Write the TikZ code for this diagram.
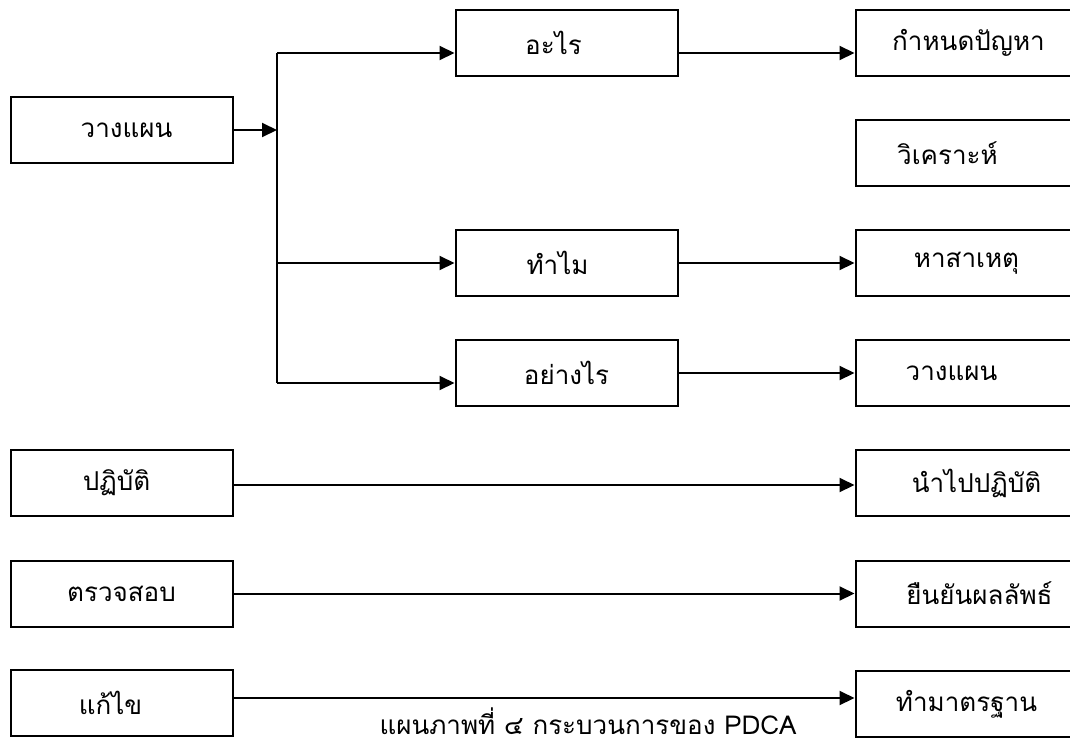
\documentclass[tikz,border=0pt]{standalone}
\usepackage{fontspec}
\newfontfamily\thaifont[Script=Thai]{Loma}
\usetikzlibrary{arrows.meta}
\newcommand\shiftx[2]{\hspace*{#1}#2\hspace*{-#1}}
\begin{document}
\begin{tikzpicture}[x=1pt,y=-1pt,
  box/.style={draw, line width=2pt, minimum width=222pt, minimum height=66pt, inner sep=0pt,
    font=\thaifont\fontsize{26}{30}\selectfont},
  conn/.style={line width=2pt},
  arr/.style={conn, -{Triangle[length=15pt,width=14pt]}}]
\useasboundingbox (0,0) rectangle (1070,747);
\clip (0,0) rectangle (1070,747);
% left column
\node[box] (L1) at (121.5,130) {\shiftx{5pt}{วางแผน}};
\node[box] (L2) at (121.5,483) {\shiftx{-5pt}{ปฏิบัติ}};
\node[box] (L3) at (121.5,593.5) {ตรวจสอบ};
\node[box] (L4) at (121.5,703) {\shiftx{-11pt}{แก้ไข}};
% middle column
\node[box] (M1) at (566.5,43) {\shiftx{-13pt}{อะไร}};
\node[box] (M2) at (566.5,263) {\shiftx{-9pt}{ทำไม}};
\node[box] (M3) at (566.5,373) {อย่างไร};
% right column
\node[box] (R1) at (966.5,43) {\shiftx{2pt}{กำหนดปัญหา}};
\node[box] (R2) at (966.5,153) {\shiftx{-19pt}{วิเคราะห์}};
\node[box] (R3) at (966.5,263) {หาสาเหตุ};
\node[box] (R4) at (966.5,373) {\shiftx{-15pt}{วางแผน}};
\node[box] (R5) at (966.5,483) {\shiftx{10pt}{นำไปปฏิบัติ}};
\node[box] (R6) at (966.5,593.5) {\shiftx{13pt}{ยืนยันผลลัพธ์}};
\node[box] (R7) at (966.5,704) {ทำมาตรฐาน};
% connectors
\coordinate (j) at (277,130);
\coordinate (jt) at (277,53);
\coordinate (jb) at (277,383);
\draw[arr] (L1.east) -- (j);
\draw[conn] (jt) -- (jb);
\draw[arr] (jt) -- (jt -| M1.west);
\draw[arr] (j |- M2.west) -- (M2.west);
\draw[arr] (jb) -- (jb -| M3.west);
\coordinate (m1o) at ([yshift=-10pt]M1.east);
\draw[arr] (m1o) -- (m1o -| R1.west);
\draw[arr] (M2.east) -- (R3.west);
\draw[arr] (M3.east) -- (R4.west);
\coordinate (l2o) at ([yshift=-2pt]L2.east);
\draw[arr] (l2o) -- (l2o -| R5.west);
\draw[arr] (L3.east) -- (R6.west);
\coordinate (l4o) at ([yshift=5pt]L4.east);
\draw[arr] (l4o) -- (l4o -| R7.west);
% caption
\node[font=\thaifont\fontsize{26}{29}\selectfont, anchor=base, inner sep=0pt] (cap) at (588,734) {แผนภาพที่ ๔ กระบวนการของ PDCA};
\end{tikzpicture}
\end{document}
